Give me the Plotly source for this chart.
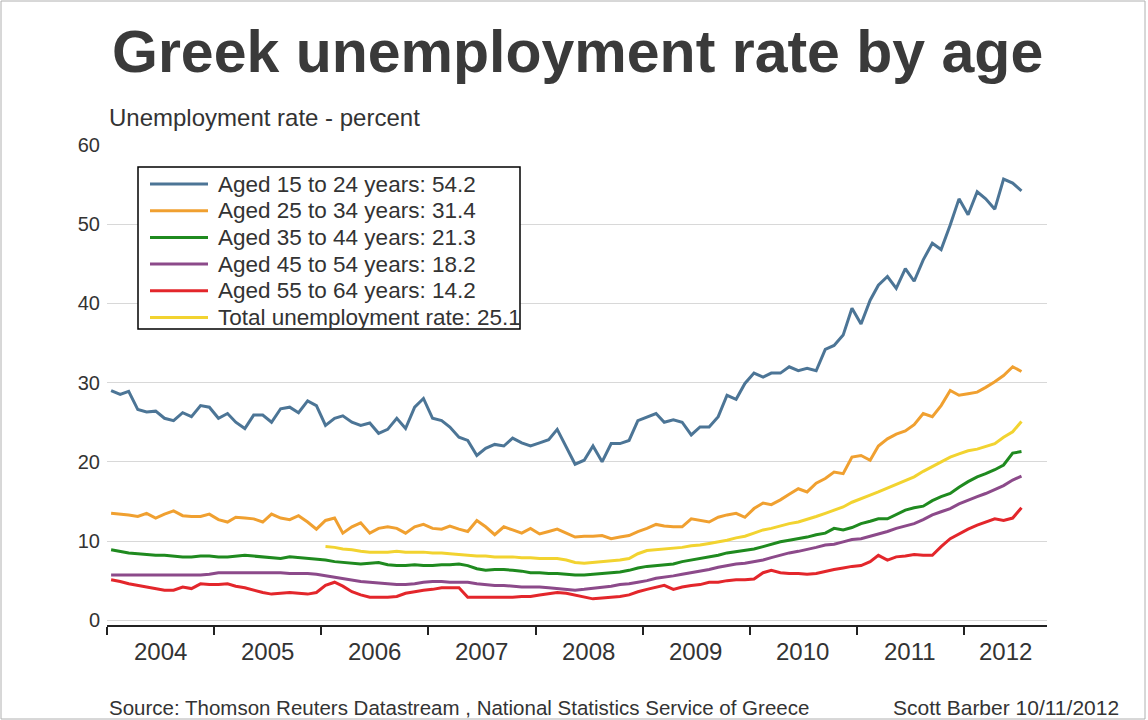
import pandas as pd
import plotly.graph_objects as go

# Monthly unemployment rates (percent), Jan 2004 - Jul 2012
months = pd.date_range("2004-01-01", "2012-07-01", freq="MS") + pd.Timedelta(days=14)

aged_15_24 = [
    29.0, 28.5, 28.9, 26.6, 26.3, 26.4, 25.5, 25.2, 26.2, 25.7, 27.1, 26.9,
    25.5, 26.1, 25.0, 24.2, 25.9, 25.9, 25.0, 26.7, 26.9, 26.2, 27.7, 27.1,
    24.6, 25.5, 25.8, 25.0, 24.6, 24.9, 23.6, 24.1, 25.5, 24.2, 26.9, 28.0,
    25.5, 25.2, 24.4, 23.1, 22.7, 20.8, 21.7, 22.2, 22.0, 23.0, 22.4, 22.0,
    22.4, 22.8, 24.1, 21.9, 19.7, 20.2, 22.0, 20.0, 22.3, 22.3, 22.7, 25.2,
    25.7, 26.1, 25.0, 25.3, 25.0, 23.4, 24.4, 24.4, 25.7, 28.4, 27.9, 29.9,
    31.2, 30.7, 31.2, 31.2, 32.0, 31.5, 31.8, 31.5, 34.2, 34.7, 36.0, 39.4,
    37.4, 40.4, 42.3, 43.4, 41.9, 44.4, 42.8, 45.5, 47.6, 46.8, 49.9, 53.2,
    51.2, 54.1, 53.2, 51.9, 55.7, 55.2, 54.2,
]
aged_25_34 = [
    13.5, 13.4, 13.3, 13.1, 13.5, 12.9, 13.4, 13.8, 13.2, 13.1, 13.1, 13.4,
    12.7, 12.4, 13.0, 12.9, 12.8, 12.4, 13.4, 12.9, 12.7, 13.2, 12.4, 11.5,
    12.6, 12.9, 11.0, 11.8, 12.3, 11.0, 11.6, 11.8, 11.6, 11.0, 11.8, 12.1,
    11.6, 11.5, 11.9, 11.5, 11.2, 12.6, 11.8, 10.8, 11.8, 11.4, 11.0, 11.6,
    10.9, 11.2, 11.5, 11.0, 10.5, 10.6, 10.6, 10.7, 10.3, 10.5, 10.7, 11.2,
    11.6, 12.1, 11.9, 11.8, 11.8, 12.8, 12.6, 12.4, 13.0, 13.3, 13.5, 13.0,
    14.1, 14.8, 14.6, 15.2, 15.9, 16.6, 16.2, 17.3, 17.9, 18.7, 18.5, 20.6,
    20.8, 20.2, 22.0, 22.9, 23.5, 23.9, 24.7, 26.1, 25.7, 27.1, 29.0, 28.4,
    28.6, 28.8, 29.4, 30.1, 30.9, 32.0, 31.4,
]
aged_35_44 = [
    8.9, 8.7, 8.5, 8.4, 8.3, 8.2, 8.2, 8.1, 8.0, 8.0, 8.1, 8.1,
    8.0, 8.0, 8.1, 8.2, 8.1, 8.0, 7.9, 7.8, 8.0, 7.9, 7.8, 7.7,
    7.6, 7.4, 7.3, 7.2, 7.1, 7.2, 7.3, 7.0, 6.9, 6.9, 7.0, 6.9,
    6.9, 7.0, 7.0, 7.1, 6.9, 6.5, 6.3, 6.4, 6.4, 6.3, 6.2, 6.0,
    6.0, 5.9, 5.9, 5.8, 5.7, 5.7, 5.8, 5.9, 6.0, 6.1, 6.3, 6.6,
    6.8, 6.9, 7.0, 7.1, 7.4, 7.6, 7.8, 8.0, 8.2, 8.5, 8.7, 8.8,
    9.0, 9.3, 9.6, 9.9, 10.1, 10.3, 10.5, 10.8, 11.0, 11.6, 11.4, 11.7,
    12.2, 12.5, 12.8, 12.8, 13.3, 13.9, 14.2, 14.4, 15.1, 15.6, 16.0, 16.8,
    17.5, 18.1, 18.5, 19.0, 19.6, 21.1, 21.3,
]
aged_45_54 = [
    5.7, 5.7, 5.7, 5.7, 5.7, 5.7, 5.7, 5.7, 5.7, 5.7, 5.7, 5.8,
    6.0, 6.0, 6.0, 6.0, 6.0, 6.0, 6.0, 6.0, 5.9, 5.9, 5.9, 5.8,
    5.6, 5.4, 5.2, 5.0, 4.9, 4.8, 4.7, 4.6, 4.5, 4.5, 4.6, 4.8,
    4.9, 4.9, 4.8, 4.8, 4.8, 4.6, 4.5, 4.4, 4.4, 4.3, 4.2, 4.2,
    4.2, 4.1, 4.0, 3.9, 3.8, 3.9, 4.0, 4.2, 4.3, 4.5, 4.6, 4.8,
    5.0, 5.3, 5.4, 5.6, 5.8, 6.0, 6.2, 6.4, 6.7, 6.9, 7.1, 7.2,
    7.4, 7.6, 7.9, 8.2, 8.5, 8.7, 8.9, 9.2, 9.5, 9.6, 9.9, 10.2,
    10.3, 10.6, 10.9, 11.2, 11.6, 11.9, 12.2, 12.7, 13.3, 13.7, 14.1, 14.7,
    15.2, 15.6, 16.0, 16.5, 17.0, 17.7, 18.2,
]
aged_55_64 = [
    5.1, 4.9, 4.6, 4.4, 4.2, 4.0, 3.8, 3.8, 4.2, 4.0, 4.6, 4.5,
    4.5, 4.6, 4.3, 4.1, 3.8, 3.5, 3.3, 3.4, 3.5, 3.4, 3.3, 3.5,
    4.4, 4.8, 4.3, 3.6, 3.2, 2.9, 2.9, 2.9, 3.0, 3.4, 3.6, 3.8,
    3.9, 4.1, 4.1, 4.1, 2.9, 2.9, 2.9, 2.9, 2.9, 2.9, 3.0, 3.0,
    3.2, 3.4, 3.5, 3.4, 3.2, 2.9, 2.7, 2.8, 2.9, 3.0, 3.2, 3.6,
    3.9, 4.2, 4.4, 3.9, 4.2, 4.4, 4.5, 4.8, 4.8, 5.0, 5.1, 5.1,
    5.2, 6.0, 6.3, 6.0, 5.9, 5.9, 5.8, 5.9, 6.2, 6.4, 6.6, 6.8,
    6.9, 7.4, 8.2, 7.6, 8.0, 8.1, 8.3, 8.2, 8.2, 9.3, 10.3, 10.9,
    11.5, 12.0, 12.4, 12.8, 12.6, 12.9, 14.2,
]
# Total rate, Jan 2006 - Jul 2012
total_rate = [
    9.3, 9.2, 9.0, 8.9, 8.7, 8.6, 8.6, 8.6, 8.7, 8.6, 8.6, 8.6,
    8.5, 8.5, 8.4, 8.3, 8.2, 8.1, 8.1, 8.0, 8.0, 8.0, 7.9, 7.9,
    7.8, 7.8, 7.8, 7.6, 7.3, 7.2, 7.3, 7.4, 7.5, 7.6, 7.8, 8.4,
    8.8, 8.9, 9.0, 9.1, 9.2, 9.4, 9.5, 9.7, 9.9, 10.1, 10.4, 10.6,
    11.0, 11.4, 11.6, 11.9, 12.2, 12.4, 12.7, 13.1, 13.5, 13.9, 14.3, 14.9,
    15.4, 15.8, 16.2, 16.7, 17.2, 17.6, 18.1, 18.8, 19.4, 19.9, 20.6, 21.0,
    21.4, 21.6, 21.9, 22.3, 23.1, 23.8, 25.1,
]
total_months = months[24:]

year_labels = ["2004", "2005", "2006", "2007", "2008", "2009", "2010", "2011", "2012"]
year_label_pos = ["2004-07-01", "2005-07-01", "2006-07-01", "2007-07-01", "2008-07-01",
                  "2009-07-01", "2010-07-01", "2011-07-01", "2012-05-20"]

series = [
    ("Aged 15 to 24 years", aged_15_24, months, "#4c7596"),
    ("Aged 25 to 34 years", aged_25_34, months, "#f0a030"),
    ("Aged 35 to 44 years", aged_35_44, months, "#1f8a1f"),
    ("Aged 45 to 54 years", aged_45_54, months, "#8c4a8a"),
    ("Aged 55 to 64 years", aged_55_64, months, "#e3262b"),
    ("Total unemployment rate", total_rate, total_months, "#f2d330"),
]

FONT = "Liberation Sans, Arial, sans-serif"
TXT = "#333333"

W, H = 1148, 720
L, R, T, B = 107, 101, 145, 95
pw, ph = W - L - R, H - T - B


def px_x(x):
    """Pixel column -> paper x."""
    return (x - L) / pw


def px_y(y):
    """Pixel row -> paper y."""
    return (T + ph - y) / ph


fig = go.Figure()
for name, vals, xs, color in series:
    fig.add_trace(go.Scatter(
        x=xs, y=vals, mode="lines",
        name=f"{name}: {vals[-1]:.1f}",
        line=dict(color=color, width=3),
        showlegend=False,
    ))

annotations = [
    dict(text="<b>Greek unemployment rate by age</b>", x=0.5, y=px_y(52),
         xref="paper", yref="paper", xanchor="center", yanchor="middle", showarrow=False,
         font=dict(family=FONT, size=59, color="#3a3a3a")),
    dict(text="Unemployment rate - percent", x=0, y=px_y(117),
         xref="paper", yref="paper", xanchor="left", yanchor="middle", showarrow=False,
         font=dict(family=FONT, size=24, color=TXT)),
    dict(text="Source: Thomson Reuters Datastream , National Statistics Service of Greece",
         x=0, y=px_y(707), xref="paper", yref="paper",
         xanchor="left", yanchor="middle", showarrow=False,
         font=dict(family=FONT, size=20.5, color=TXT)),
    dict(text="Scott Barber 10/11/2012",
         x=px_x(1121), y=px_y(707), xref="paper", yref="paper",
         xanchor="right", yanchor="middle", showarrow=False,
         font=dict(family=FONT, size=21, color=TXT)),
]
for lab, pos in zip(year_labels, year_label_pos):
    annotations.append(dict(
        text=lab, x=pos, y=px_y(651), xref="x", yref="paper",
        xanchor="center", yanchor="middle", showarrow=False,
        font=dict(family=FONT, size=24, color=TXT)))

# outer frame and legend box
shapes = [
    dict(type="rect", xref="paper", yref="paper",
         x0=px_x(1), x1=px_x(W - 3), y0=px_y(H - 1), y1=px_y(1),
         line=dict(color="#b0b0b0", width=1), layer="below"),
    dict(type="rect", xref="paper", yref="paper",
         x0=px_x(138), x1=px_x(520), y0=px_y(329), y1=px_y(167),
         line=dict(color="black", width=1.5), fillcolor="white", layer="above"),
]

# legend entries
row0, row_step = 184, 26.7
for k, (name, vals, xs, color) in enumerate(series):
    yc = row0 + k * row_step
    shapes.append(dict(type="line", xref="paper", yref="paper",
                       x0=px_x(150), x1=px_x(208), y0=px_y(yc), y1=px_y(yc),
                       line=dict(color=color, width=3), layer="above"))
    annotations.append(dict(
        text=f"{name}: {vals[-1]:.1f}", x=px_x(216), y=px_y(yc),
        xref="paper", yref="paper", xanchor="left", yanchor="middle", showarrow=False,
        font=dict(family=FONT, size=22.5, color=TXT)))

fig.update_layout(
    width=W, height=H,
    margin=dict(l=L, r=R, t=T, b=B, autoexpand=False),
    paper_bgcolor="white", plot_bgcolor="white",
    font=dict(family=FONT, color=TXT),
    showlegend=False,
    annotations=annotations,
    shapes=shapes,
)

fig.update_xaxes(
    type="date", range=["2004-01-01", "2012-10-10"],
    tickvals=[f"{y}-01-01" for y in range(2004, 2013)], ticktext=[""] * 9,
    ticks="outside", ticklen=8, tickwidth=1.5, tickcolor="#222222",
    showline=True, linecolor="#222222", linewidth=1.5,
    showgrid=False, zeroline=False,
)
fig.update_yaxes(
    range=[-0.6, 60], tickvals=[0, 10, 20, 30, 40, 50, 60],
    showgrid=True, gridcolor="#d8d8d8", gridwidth=1,
    zeroline=False, showline=False, ticks="",
    tickfont=dict(family=FONT, size=20, color=TXT),
    ticklabelstandoff=6,
)

fig.write_html("out.html")
